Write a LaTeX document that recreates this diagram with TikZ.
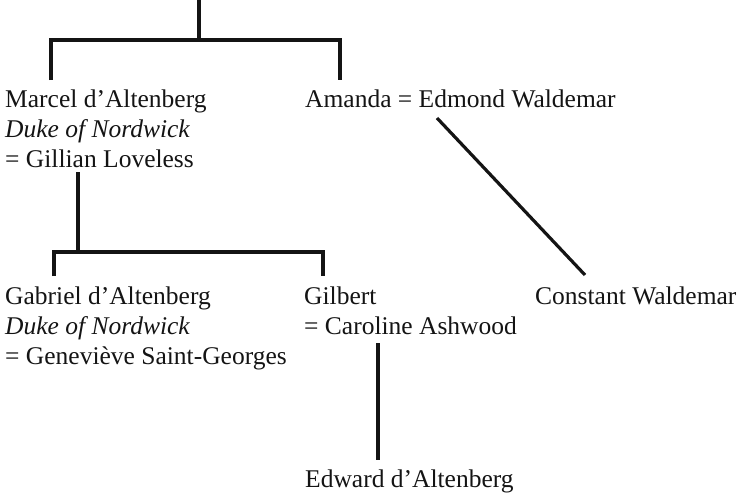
\documentclass[tikz,border=0pt]{standalone}
\usepackage{fontspec}
\setmainfont{Liberation Serif}
\begin{document}
\begin{tikzpicture}[x=1pt,y=-1pt,
  person/.style={anchor=base west,inner sep=0pt,align=left,text=black!92,
    font=\fontsize{25.5}{30}\selectfont},
  link/.style={line width=3.2pt,black!92}]
\useasboundingbox (0,0) rectangle (750,499);
% people (base anchor = baseline of the last line)
\node[person] (marcel) at (5,167) {Marcel d’Altenberg\\\textit{Duke of Nordwick}\\= Gillian Loveless};
\node[person] (amanda) at (305,107) {Amanda = Edmond Waldemar};
\node[person] (gabriel) at (5,364) {Gabriel d’Altenberg\\\textit{Duke of Nordwick}\\= Geneviève Saint-Georges};
\node[person] (gilbert) at (304,334) {Gilbert\\= Caroline Ashwood};
\node[person] (constant) at (535,304) {Constant Waldemar};
\node[person] (edward) at (305,487) {Edward d’Altenberg};
% connector ends
\coordinate (top) at (199,0);
\coordinate (j1) at (199,40);
\coordinate (marcelin) at (51,80);
\coordinate (amandain) at (340,80);
\coordinate (marcelout) at (78,172);
\coordinate (j2) at (78,252);
\coordinate (gabrielin) at (54,276);
\coordinate (gilbertin) at (323,276);
\coordinate (gilbertout) at (378,343);
\coordinate (edwardin) at (378,460);
\coordinate (amandaout) at (437,118);
\coordinate (constantin) at (585,275);
% connectors
\draw[link] (top) -- (j1);
\draw[link] (marcelin) |- (j1) -| (amandain);
\draw[link] (marcelout) -- (j2);
\draw[link] (gabrielin) |- (j2) -| (gilbertin);
\draw[link] (gilbertout) -- (edwardin);
\draw[link] (amandaout) -- (constantin);
\end{tikzpicture}
\end{document}
